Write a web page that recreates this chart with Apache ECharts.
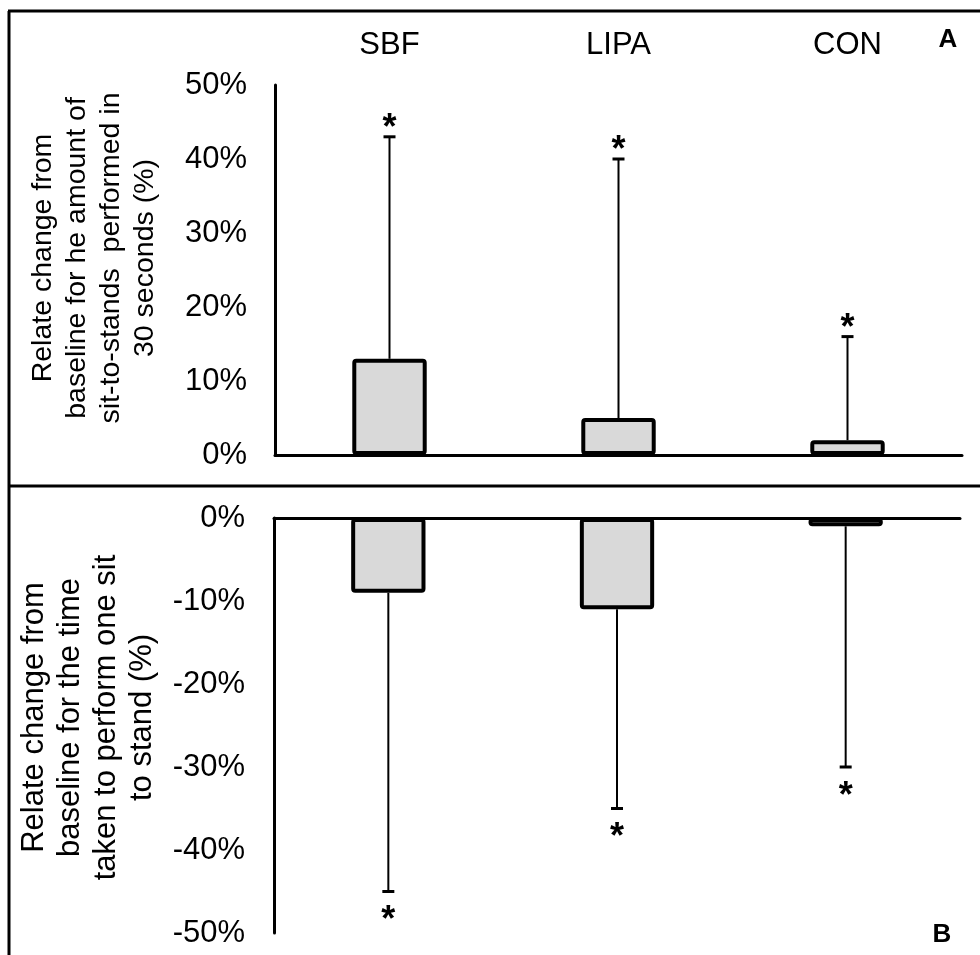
<!DOCTYPE html>
<html>
<head>
<meta charset="utf-8">
<style>
  html, body { margin: 0; padding: 0; background: #fff; }
  #chart { width: 980px; height: 955px; }
</style>
<script src="https://cdn.jsdelivr.net/npm/echarts@6/dist/echarts.min.js"></script>
</head>
<body>
<div id="chart"></div>
<script>
var groups = ['SBF', 'LIPA', 'CON'];

// panel A: relative change in number of sit-to-stands in 30 s (%)
var standsMean = [13, 5, 2];
var standsErr = [43, 40, 16];

// panel B: relative change in time taken for one sit to stand (%)
var timeMean = [-9, -11, -1];
var timeErr = [-45, -35, -30];

var yTicksA = [0, 50, 10];   // min, max, interval
var yTicksB = [-50, 0, 10];

var FONT = 'Arial, "Liberation Sans", sans-serif';

function errData(mean, err) {
  var out = [];
  for (var i = 0; i < mean.length; i++) {
    out.push([i, mean[i], err[i]]);
  }
  return out;
}

// error whisker from the bar end out to the error value, small cap, star past it
function errRender(dir) {
  return function (params, api) {
    var i = api.value(0);
    var from = api.coord([i, api.value(1)]);
    var to = api.coord([i, api.value(2)]);
    return {
      type: 'group',
      children: [
        { type: 'line', shape: { x1: from[0], y1: from[1], x2: to[0], y2: to[1] },
          style: { stroke: '#000', lineWidth: 2 } },
        { type: 'line', shape: { x1: to[0] - 6, y1: to[1], x2: to[0] + 6, y2: to[1] },
          style: { stroke: '#000', lineWidth: 3 } },
        { type: 'text', x: to[0], y: to[1] + (dir > 0 ? -8 : 30),
          style: { text: '*', fill: '#000', font: 'bold 36px ' + FONT, align: 'center', verticalAlign: 'middle' } }
      ]
    };
  };
}

var chart = echarts.init(document.getElementById('chart'));

var option = {
  animation: false,
  backgroundColor: '#fff',
  textStyle: { fontFamily: FONT, color: '#000' },
  grid: [
    { left: 275, right: 18, top: 85, bottom: 500 },
    { left: 274, right: 20, top: 518, bottom: 22 }
  ],
  xAxis: [
    { type: 'category', gridIndex: 0, data: groups, position: 'bottom',
      axisLine: { lineStyle: { color: '#000', width: 3 } },
      axisTick: { show: false }, axisLabel: { show: false } },
    { type: 'category', gridIndex: 0, data: groups, position: 'top',
      axisLine: { show: false }, axisTick: { show: false },
      axisLabel: { fontSize: 31, color: '#000', fontFamily: FONT, margin: 24 } },
    { type: 'category', gridIndex: 1, data: groups, position: 'top',
      axisLine: { lineStyle: { color: '#000', width: 3 } },
      axisTick: { show: false }, axisLabel: { show: false } }
  ],
  yAxis: [
    { type: 'value', gridIndex: 0, min: yTicksA[0], max: yTicksA[1], interval: yTicksA[2],
      name: 'Relate change from\nbaseline for he amount of\nsit-to-stands  performed in\n30 seconds (%)',
      nameLocation: 'middle', nameGap: 113,
      nameTextStyle: { fontSize: 28.5, lineHeight: 34, color: '#000', fontFamily: FONT, padding: [0, 0, 0, 24] },
      axisLine: { show: true, lineStyle: { color: '#000', width: 3 } },
      axisTick: { show: false }, splitLine: { show: false },
      axisLabel: { formatter: '{value}%', fontSize: 31, color: '#000', fontFamily: FONT, margin: 28 } },
    { type: 'value', gridIndex: 1, min: yTicksB[0], max: yTicksB[1], interval: yTicksB[2],
      name: 'Relate change from\nbaseline for the time\ntaken to perform one sit\nto stand (%)',
      nameLocation: 'middle', nameGap: 114,
      nameTextStyle: { fontSize: 31, lineHeight: 36, color: '#000', fontFamily: FONT, padding: [0, 0, 0, 16] },
      axisLine: { show: true, lineStyle: { color: '#000', width: 3 } },
      axisTick: { show: false }, splitLine: { show: false },
      axisLabel: { formatter: '{value}%', fontSize: 31, color: '#000', fontFamily: FONT, margin: 29 } }
  ],
  series: [
    { type: 'custom', xAxisIndex: 0, yAxisIndex: 0, z: 1,
      renderItem: errRender(1), data: errData(standsMean, standsErr) },
    { type: 'bar', xAxisIndex: 0, yAxisIndex: 0, z: 2, barWidth: '32.5%',
      itemStyle: { color: '#d9d9d9', borderColor: '#000', borderWidth: 4, borderRadius: 2 },
      data: standsMean },
    { type: 'custom', xAxisIndex: 2, yAxisIndex: 1, z: 1,
      renderItem: errRender(-1), data: errData(timeMean, timeErr) },
    { type: 'bar', xAxisIndex: 2, yAxisIndex: 1, z: 2, barWidth: '32.5%',
      itemStyle: { color: '#d9d9d9', borderColor: '#000', borderWidth: 4, borderRadius: 2 },
      data: timeMean }
  ],
  graphic: [
    { type: 'line', shape: { x1: 9, y1: 11, x2: 9, y2: 955 }, style: { stroke: '#000', lineWidth: 3 } },
    { type: 'line', shape: { x1: 8, y1: 11, x2: 980, y2: 11 }, style: { stroke: '#000', lineWidth: 3 } },
    { type: 'line', shape: { x1: 8, y1: 486, x2: 980, y2: 486 }, style: { stroke: '#000', lineWidth: 3 } },
    { type: 'text', x: 948, y: 40, style: { text: 'A', font: 'bold 26px ' + FONT, fill: '#000', align: 'center', verticalAlign: 'middle' } },
    { type: 'text', x: 942, y: 935, style: { text: 'B', font: 'bold 26px ' + FONT, fill: '#000', align: 'center', verticalAlign: 'middle' } }
  ]
};

chart.setOption(option);
</script>
</body>
</html>
